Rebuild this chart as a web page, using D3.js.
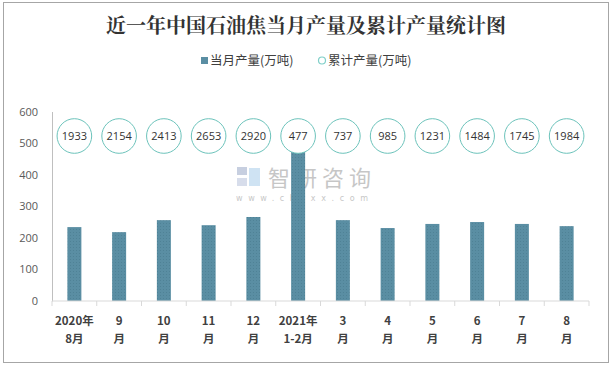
<!DOCTYPE html>
<html><head><meta charset="utf-8">
<script src="https://cdn.jsdelivr.net/npm/d3@7"></script>
<style>body{margin:0;background:#fff}svg{display:block}</style>
</head><body>
<script>
const categories = [["2020年","8月"],["9","月"],["10","月"],["11","月"],["12","月"],["2021年","1-2月"],["3","月"],["4","月"],["5","月"],["6","月"],["7","月"],["8","月"]];
const monthly = [234, 218, 256, 240, 266, 477, 256, 231, 244, 250, 244, 237];
const cumulative = [1933, 2154, 2413, 2653, 2920, 477, 737, 985, 1231, 1484, 1745, 1984];
const yTicks = [0, 100, 200, 300, 400, 500, 600];

const W = 612, H = 368;
const svg = d3.select("body").append("svg").attr("width", W).attr("height", H);
svg.append("rect").attr("x", 3.5).attr("y", 2.5).attr("width", 605).attr("height", 360)
  .attr("fill", "#fff").attr("stroke", "#a6a6a6").attr("stroke-width", 1);

const defs = svg.append("defs");
const pat = defs.append("pattern").attr("id", "dots").attr("width", 3).attr("height", 3).attr("patternUnits", "userSpaceOnUse");
pat.append("rect").attr("width", 3).attr("height", 3).attr("fill", "#5a8ea3");
pat.append("rect").attr("x", 1).attr("y", 1).attr("width", 1).attr("height", 1).attr("fill", "#4f8296");

svg.append("text").attr("x", 306).attr("y", 33).attr("text-anchor", "middle")
  .attr("font-family", "'Noto Serif CJK SC','Noto Sans CJK SC',serif").attr("font-weight", "bold")
  .attr("font-size", 20).attr("fill", "#333").text("近一年中国石油焦当月产量及累计产量统计图");

// legend
const lg = svg.append("g").attr("font-family", "'Noto Sans CJK SC',sans-serif").attr("font-size", 12.5).attr("fill", "#404040");
lg.append("rect").attr("x", 201).attr("y", 57).attr("width", 7).attr("height", 7).attr("fill", "#5a8ea3");
lg.append("text").attr("x", 210).attr("y", 65).text("当月产量(万吨)");
lg.append("circle").attr("cx", 322).attr("cy", 60.5).attr("r", 3.5).attr("fill", "#fff").attr("stroke", "#7fcfc8").attr("stroke-width", 1.2);
lg.append("text").attr("x", 328).attr("y", 65).text("累计产量(万吨)");

const x = d3.scaleBand().domain(d3.range(categories.length)).range([52, 589]).paddingInner(0).paddingOuter(0);
const y = d3.scaleLinear().domain([0, 600]).range([301, 111.5]);

// watermark
const wm = svg.append("g").attr("opacity", 0.55);
wm.append("text").attr("x", 268).attr("y", 186).attr("font-family", "'Noto Sans CJK SC',sans-serif")
  .attr("font-size", 22).attr("fill", "#999").attr("letter-spacing", 5).text("智研咨询");
wm.append("text").attr("x", 236).attr("y", 201).attr("font-family", "DejaVu Sans,sans-serif")
  .attr("font-size", 8).attr("fill", "#999").attr("letter-spacing", 5.6).text("www.chyxx.com");
wm.append("rect").attr("x", 237).attr("y", 167).attr("width", 10).attr("height", 8).attr("fill", "#9aa8c8");
wm.append("rect").attr("x", 249).attr("y", 168).attr("width", 11).attr("height", 18).attr("fill", "#a9cdea");
wm.append("rect").attr("x", 237).attr("y", 178).attr("width", 10).attr("height", 8).attr("fill", "#b8c3dc");

// y axis
const yAxis = svg.append("g").attr("transform", "translate(52,0)")
  .call(d3.axisLeft(y).tickValues(yTicks).tickSize(0).tickPadding(14));
yAxis.select(".domain").attr("stroke", "#bfbfbf");
yAxis.selectAll("text").attr("font-family", "'Open Sans','DejaVu Sans',sans-serif").attr("font-size", 11).attr("fill", "#595959");

// bars
svg.append("g").selectAll("rect").data(monthly).join("rect")
  .attr("x", (d, i) => x(i) + x.bandwidth() / 2 - 7)
  .attr("width", 14)
  .attr("y", d => y(d))
  .attr("height", d => y(0) - y(d))
  .attr("fill", "url(#dots)");

// x axis
const xAxis = svg.append("g").attr("transform", "translate(0,301)");
xAxis.append("line").attr("x1", 52).attr("x2", 589).attr("stroke", "#d9d9d9").attr("stroke-width", 1.2);
xAxis.selectAll("line.t").data(d3.range(categories.length + 1)).join("line").attr("class", "t")
  .attr("x1", i => 52 + i * x.step()).attr("x2", i => 52 + i * x.step())
  .attr("y1", 0).attr("y2", 5).attr("stroke", "#d9d9d9");
const lbl = xAxis.selectAll("text").data(categories).join("text")
  .attr("text-anchor", "middle").attr("font-family", "'Noto Sans CJK SC',sans-serif")
  .attr("font-weight", "bold").attr("font-size", 11.5).attr("fill", "#404040");
lbl.append("tspan").attr("x", (d, i) => x(i) + x.bandwidth() / 2).attr("y", 24).text(d => d[0]);
lbl.append("tspan").attr("x", (d, i) => x(i) + x.bandwidth() / 2).attr("y", 42).text(d => d[1]);

// cumulative circles
const cg = svg.append("g").selectAll("g").data(cumulative).join("g")
  .attr("transform", (d, i) => `translate(${x(i) + x.bandwidth() / 2},136)`);
cg.append("circle").attr("r", 17.3).attr("fill", "#fff").attr("stroke", "#6cc3bb").attr("stroke-width", 1);
cg.append("text").attr("text-anchor", "middle").attr("dy", 4).attr("font-family", "'Open Sans','DejaVu Sans',sans-serif")
  .attr("font-size", 11).attr("fill", "#333").text(d => d);
</script>
</body></html>
